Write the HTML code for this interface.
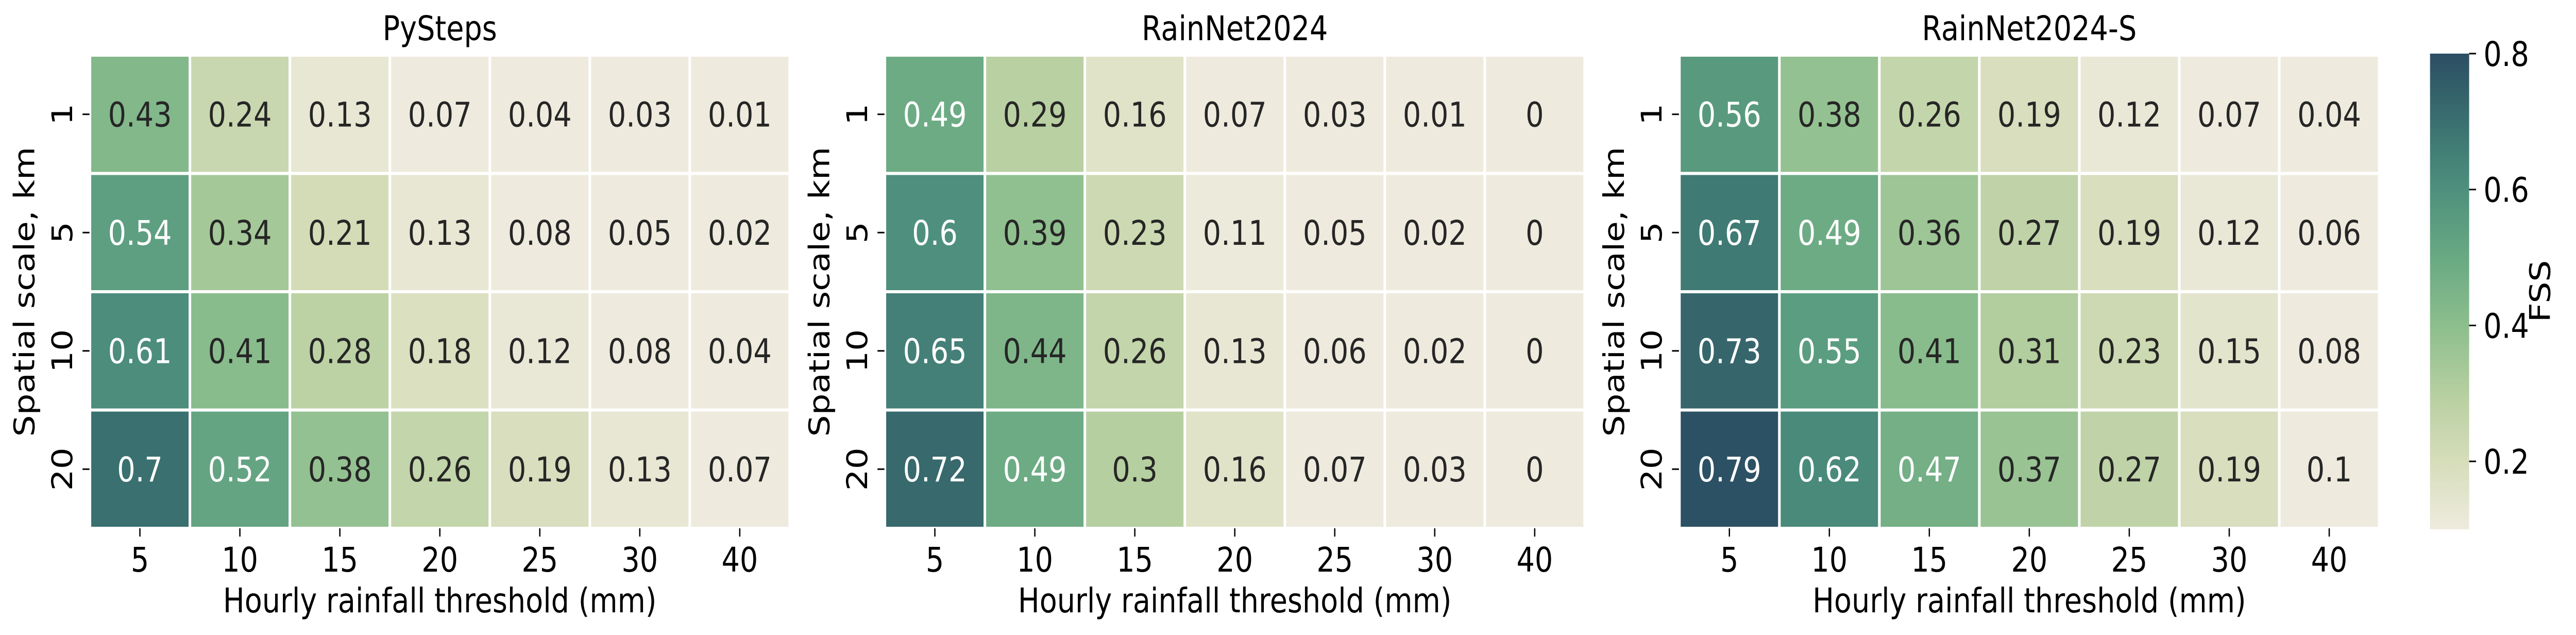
<!DOCTYPE html>
<html><head><meta charset="utf-8"><style>
html,body{margin:0;padding:0;background:#fff;overflow:hidden;width:100%;height:100%;}
svg{display:block;position:absolute;left:0;top:0;width:100vw;height:100vh;font-family:"DejaVu Sans","Liberation Sans",sans-serif;}
</style></head><body>
<svg id="fig" viewBox="0 0 5930 1232" preserveAspectRatio="none" xmlns="http://www.w3.org/2000/svg">
<defs>
<linearGradient id="cbgrad" x1="0" y1="1" x2="0" y2="0">
<stop offset="0" stop-color="#EEEBDE"/><stop offset="0.1429" stop-color="#D6DDBA"/>
<stop offset="0.2857" stop-color="#B6CFA0"/><stop offset="0.4286" stop-color="#8CBE8D"/>
<stop offset="0.5714" stop-color="#69A983"/><stop offset="0.7143" stop-color="#4E907D"/>
<stop offset="0.8571" stop-color="#3A7070"/><stop offset="1" stop-color="#2C4E63"/>
</linearGradient>
</defs>
</svg>
<script>
const panelTitles = ["PySteps", "RainNet2024", "RainNet2024-S"];
const xCategories = ["5", "10", "15", "20", "25", "30", "40"];
const yCategories = ["1", "5", "10", "20"];
const pystepsValues = [
  [0.43, 0.24, 0.13, 0.07, 0.04, 0.03, 0.01],
  [0.54, 0.34, 0.21, 0.13, 0.08, 0.05, 0.02],
  [0.61, 0.41, 0.28, 0.18, 0.12, 0.08, 0.04],
  [0.7, 0.52, 0.38, 0.26, 0.19, 0.13, 0.07]
];
const rainnetValues = [
  [0.49, 0.29, 0.16, 0.07, 0.03, 0.01, 0],
  [0.6, 0.39, 0.23, 0.11, 0.05, 0.02, 0],
  [0.65, 0.44, 0.26, 0.13, 0.06, 0.02, 0],
  [0.72, 0.49, 0.3, 0.16, 0.07, 0.03, 0]
];
const rainnetSValues = [
  [0.56, 0.38, 0.26, 0.19, 0.12, 0.07, 0.04],
  [0.67, 0.49, 0.36, 0.27, 0.19, 0.12, 0.06],
  [0.73, 0.55, 0.41, 0.31, 0.23, 0.15, 0.08],
  [0.79, 0.62, 0.47, 0.37, 0.27, 0.19, 0.1]
];
const colorbarTicks = [0.2, 0.4, 0.6, 0.8];
const vmin = 0.1, vmax = 0.8;

const NS = "http://www.w3.org/2000/svg";
const svg = document.getElementById("fig");
const panelLefts = [207, 2037, 3866];
const top0 = 107, plotW = 1611, plotH = 918;
const cellW = plotW / xCategories.length, cellH = plotH / yCategories.length;
const stops = [[0.1,[238,235,222]],[0.2,[214,221,186]],[0.3,[182,207,160]],[0.4,[140,190,141]],
  [0.5,[105,169,131]],[0.6,[78,144,125]],[0.7,[58,112,112]],[0.8,[44,78,99]]];
function color(v){
  v = Math.max(vmin, Math.min(vmax, v));
  for(let i=0;i<stops.length-1;i++){
    const [a,ca]=stops[i],[b,cb]=stops[i+1];
    if(v<=b){const t=(v-a)/(b-a);
      return "rgb("+ca.map((c,k)=>Math.round(c+(cb[k]-c)*t)).join(",")+")";}
  }
  return "rgb(44,78,99)";
}
function el(tag, attrs, text){
  const e=document.createElementNS(NS,tag);
  for(const k in attrs) e.setAttribute(k, attrs[k]);
  if(text!==undefined) e.textContent=text;
  svg.appendChild(e); return e;
}
const allValues = [pystepsValues, rainnetValues, rainnetSValues];
allValues.forEach((vals, p) => {
  const L = panelLefts[p];
  const xScale = i => L + i*cellW;
  const yScale = j => top0 + j*cellH;
  const t = el("text",{x:L+plotW/2,y:78,"text-anchor":"middle","font-size":"66"},panelTitles[p]);
  
  
  vals.forEach((row, j) => {
    row.forEach((v, i) => {
      const r = el("rect",{x:xScale(i)+3,y:yScale(j)+3,width:cellW-6,height:cellH-6,fill:color(v)});
      
      
      const a = el("text",{x:xScale(i)+cellW/2,y:yScale(j)+cellH/2+24,"text-anchor":"middle","font-size":"66",fill:v>=0.45?"#ffffff":"#262626"},String(v));
      
      
    });
  });
  xCategories.forEach((c, i) => {
    const cx = xScale(i)+cellW/2;
    const tk = el("line",{x1:cx,x2:cx,y1:top0+plotH,y2:top0+plotH+16,stroke:"#000","stroke-width":"3"});
    
    
    const lb = el("text",{x:cx,y:1109,"text-anchor":"middle","font-size":"66"},c);
    
    
  });
  yCategories.forEach((c, j) => {
    const cy = yScale(j)+cellH/2;
    const tk = el("line",{x1:L-17,x2:L-1,y1:cy,y2:cy,stroke:"#000","stroke-width":"3"});
    
    
    const lb = el("text",{x:0,y:0,"text-anchor":"middle","font-size":"66",transform:"translate("+(L-41)+","+cy+") rotate(-90)"},c);
    
    
  });
  const xl = el("text",{x:L+plotW/2,y:1188,"text-anchor":"middle","font-size":"66"},"Hourly rainfall threshold (mm)");
  
  
  const yl = el("text",{x:0,y:0,"text-anchor":"middle","font-size":"66",transform:"translate("+(L-128)+","+(top0+plotH/2)+") rotate(-90)"},"Spatial scale, km");
  
  
});
const cbX = 5594, cbW = 90, cbTop = 104, cbBot = 1027;
const cbScale = v => cbBot - (v - vmin)/(vmax - vmin)*(cbBot - cbTop);
const cb = el("rect",{x:cbX,y:cbTop,width:cbW,height:cbBot-cbTop,fill:"url(#cbgrad)"});


colorbarTicks.forEach(v => {
  const y = cbScale(v);
  const tk = el("line",{x1:cbX+cbW,x2:cbX+cbW+16,y1:y,y2:y,stroke:"#000","stroke-width":"3"});
  
  
  const lb = el("text",{x:5717,y:y+24,"font-size":"66"},v.toFixed(1));
  
  
});
const fl = el("text",{x:0,y:0,"text-anchor":"middle","font-size":"66",transform:"translate(5870,565) rotate(-90)"},"FSS");


</script>
</body></html>
